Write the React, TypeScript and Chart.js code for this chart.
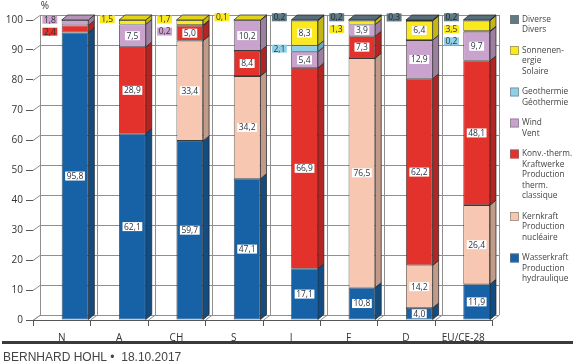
import React, { useEffect, useRef } from "react";
import { Chart, registerables } from "chart.js";
Chart.register(...registerables);

const categories = ["N", "A", "CH", "S", "I", "F", "D", "EU/CE-28"];
const wasserkraft = [95.8, 62.1, 59.7, 47.1, 17.1, 10.8, 4.0, 11.9];
const kernkraft = [0, 0, 33.4, 34.2, 0, 76.5, 14.2, 26.4];
const konvTherm = [2.4, 28.9, 5.0, 8.4, 66.9, 7.3, 62.2, 48.1];
const wind = [1.8, 7.5, 0.2, 10.2, 5.4, 3.9, 12.9, 9.7];
const geothermie = [0, 0, 0, 0, 2.1, 0, 0, 0.2];
const sonnenenergie = [0, 1.5, 1.7, 0.1, 8.3, 1.3, 6.4, 3.5];
const diverse = [0, 0, 0, 0, 0.2, 0.2, 0.3, 0.2];

const seriesValues = [wasserkraft, kernkraft, konvTherm, wind, geothermie, sonnenenergie, diverse];
const seriesNames = [
  ["Wasserkraft", "Production", "hydraulique"],
  ["Kernkraft", "Production", "nucléaire"],
  ["Konv.-therm.", "Kraftwerke", "Production", "therm.", "classique"],
  ["Wind", "Vent"],
  ["Geothermie", "Géothermie"],
  ["Sonnenen-", "ergie", "Solaire"],
  ["Diverse", "Divers"],
];
const seriesColors = ["#1761a6", "#f7c7b1", "#e3312c", "#c9a3cd", "#8fd0e8", "#fae91e", "#617985"];
const yUnit = "%";
const footerText = "BERNHARD HOHL \u2022  18.10.2017";

const FONT = '"Open Sans", "DejaVu Sans", sans-serif';
const WDX = 7, WDY = -5; // back wall depth
const BDX = 6, BDY = -5; // bar depth
const INSIDE_MIN = 3.7;

function shade(hex: string, f: number) {
  const n = parseInt(hex.slice(1), 16);
  const r = Math.round(((n >> 16) & 255) * f);
  const g = Math.round(((n >> 8) & 255) * f);
  const b = Math.round((n & 255) * f);
  return `rgb(${r},${g},${b})`;
}
const fmt = (v: number) => v.toFixed(1).replace(".", ",");

const threeD = {
  id: "threeD",
  beforeDatasetsDraw(chart: any) {
    const { ctx, chartArea, scales } = chart;
    const { left, right, bottom } = chartArea;
    const y = scales.y;
    const n = chart.data.labels.length;
    const catW = (right - left) / n;
    const y0 = y.getPixelForValue(0);
    const y1 = y.getPixelForValue(100);
    ctx.save();
    ctx.lineWidth = 1;
    ctx.strokeStyle = "#8f8f8f";
    ctx.beginPath();
    y.ticks.forEach((t: any) => {
      const py = Math.round(y.getPixelForValue(t.value)) + 0.5;
      ctx.moveTo(left, py);
      ctx.lineTo(left + WDX, py + WDY);
      ctx.lineTo(right + WDX, py + WDY);
    });
    for (let i = 0; i <= n; i++) {
      const px = Math.round(left + i * catW) + 0.5;
      ctx.moveTo(px, bottom);
      ctx.lineTo(px + WDX, y0 + WDY);
      ctx.lineTo(px + WDX, y1 + WDY);
    }
    ctx.stroke();
    ctx.strokeStyle = "#555";
    ctx.beginPath();
    for (let i = 0; i <= n; i++) {
      const px = Math.round(left + i * catW) + 0.5;
      ctx.moveTo(px, bottom);
      ctx.lineTo(px, bottom + 6);
    }
    ctx.stroke();
    ctx.restore();
  },
  afterDatasetsDraw(chart: any) {
    const { ctx } = chart;
    const n = chart.data.labels.length;
    const padMeta = chart.getDatasetMeta(0);
    ctx.save();
    ctx.lineWidth = 0.8;
    ctx.strokeStyle = "rgba(35,35,35,0.9)";
    for (let j = 0; j < n; j++) {
      const segs: any[] = [];
      for (let d = 0; d < seriesValues.length; d++) {
        const v = seriesValues[d][j];
        if (!v) continue;
        const el = chart.getDatasetMeta(d + 1).data[j];
        const p = el.getProps(["x", "y", "base", "width"], true);
        segs.push({ d, v, ...p });
      }
      segs.forEach((s) => {
        const r = s.x + s.width / 2;
        ctx.beginPath();
        ctx.moveTo(r, s.y);
        ctx.lineTo(r + BDX, s.y + BDY);
        ctx.lineTo(r + BDX, s.base + BDY);
        ctx.lineTo(r, s.base);
        ctx.closePath();
        ctx.fillStyle = shade(seriesColors[s.d], 0.78);
        ctx.fill();
        ctx.stroke();
      });
      const topSeg = segs[segs.length - 1];
      if (topSeg) {
        const l = topSeg.x - topSeg.width / 2;
        const r = topSeg.x + topSeg.width / 2;
        ctx.beginPath();
        ctx.moveTo(l, topSeg.y);
        ctx.lineTo(l + BDX, topSeg.y + BDY);
        ctx.lineTo(r + BDX, topSeg.y + BDY);
        ctx.lineTo(r, topSeg.y);
        ctx.closePath();
        ctx.fillStyle = shade(seriesColors[topSeg.d], 0.9);
        ctx.fill();
        ctx.stroke();
      }
      ctx.font = `8.5px ${FONT}`;
      ctx.textAlign = "center";
      ctx.textBaseline = "middle";
      segs.forEach((s) => {
        if (s.v < INSIDE_MIN) return;
        const t = fmt(s.v);
        const w = ctx.measureText(t).width + 3;
        const cy = (s.y + s.base) / 2;
        ctx.fillStyle = "#ffffff";
        ctx.fillRect(s.x - w / 2, cy - 4.5, w, 9);
        ctx.fillStyle = "#2a3240";
        ctx.fillText(t, s.x, cy + 0.5);
      });
      const outs = segs.filter((s) => s.v < INSIDE_MIN).reverse();
      const lx = padMeta.data[j].x + 1.5;
      let prev = -Infinity;
      outs.forEach((s, k) => {
        const c = (s.y + s.base) / 2;
        const cy = k === 0 ? c - 3 : Math.max(c, prev + 12);
        prev = cy;
        const t = fmt(s.v);
        const w = ctx.measureText(t).width + 3;
        ctx.fillStyle = seriesColors[s.d];
        ctx.fillRect(lx - w / 2, cy - 4, w, 8);
        ctx.fillStyle = s.d === 6 ? "#1e2a30" : "#333";
        ctx.fillText(t, lx, cy + 0.5);
      });
    }
    ctx.restore();
  },
  afterDraw(chart: any) {
    const { ctx, chartArea, width } = chart;
    ctx.save();
    ctx.font = `10px ${FONT}`;
    ctx.fillStyle = "#333";
    ctx.textAlign = "center";
    ctx.textBaseline = "middle";
    ctx.fillText(yUnit, chartArea.left + 12, chartArea.top - 14);
    const sx = chartArea.right + 18;
    let yy = chartArea.top - 5;
    ctx.font = `8.3px ${FONT}`;
    ctx.textAlign = "left";
    for (let d = seriesValues.length - 1; d >= 0; d--) {
      const lines = seriesNames[d];
      ctx.fillStyle = seriesColors[d];
      ctx.fillRect(sx, yy, 9, 9);
      ctx.strokeStyle = "#777";
      ctx.lineWidth = 0.6;
      ctx.strokeRect(sx + 0.5, yy + 0.5, 8, 8);
      ctx.fillStyle = "#444";
      lines.forEach((ln, k) => ctx.fillText(ln, sx + 12, yy + 4.5 + k * 10.5));
      yy += lines.length * 10.5 + 10;
    }
    ctx.fillStyle = "#3a3a3a";
    ctx.fillRect(2, 341, width - 4, 3);
    ctx.font = '12px "Liberation Sans", Arial, sans-serif';
    ctx.fillStyle = "#444";
    ctx.textBaseline = "alphabetic";
    ctx.fillText(footerText, 3, 361);
    ctx.restore();
  },
};

export default function App() {
  const ref = useRef<HTMLCanvasElement | null>(null);
  useEffect(() => {
    if (!ref.current) return;
    const datasets: any[] = [
      {
        label: "pad",
        data: categories.map(() => 0),
        stack: "pad",
        backgroundColor: "rgba(0,0,0,0)",
        borderWidth: 0,
        categoryPercentage: 0.93,
        barPercentage: 1,
      },
      ...seriesValues.map((vals, d) => ({
        label: seriesNames[d].join(" "),
        data: vals.map((v) => (v ? v : null)),
        stack: "main",
        backgroundColor: seriesColors[d],
        borderColor: "rgba(35,35,35,0.9)",
        borderWidth: 0.8,
        borderSkipped: false,
        categoryPercentage: 0.93,
        barPercentage: 1,
      })),
    ];
    const chart = new Chart(ref.current, {
      type: "bar",
      data: { labels: categories, datasets },
      plugins: [threeD],
      options: {
        responsive: false,
        animation: false,
        layout: { padding: { top: 20, right: 83, left: 0, bottom: 0 } },
        plugins: { legend: { display: false }, tooltip: { enabled: false } },
        scales: {
          x: {
            stacked: true,
            grid: { display: false, offset: true },
            border: { display: true, color: "#555", width: 1 },
            ticks: { font: { family: FONT, size: 10 }, color: "#333", padding: 4 },
            afterFit: (s: any) => { s.height = 43; },
          },
          y: {
            stacked: true,
            min: 0,
            max: 100,
            grid: { drawOnChartArea: false, tickLength: 7, color: "#555" },
            border: { display: false },
            ticks: { stepSize: 10, font: { family: FONT, size: 10 }, color: "#333", padding: 3 },
            afterFit: (s: any) => { s.width = 33; },
          },
        },
      },
    });
    return () => chart.destroy();
  }, []);
  return (
    <div style={{ position: "absolute", left: 0, top: 0, width: 575, height: 363, background: "#fff" }}>
      <canvas ref={ref} width={575} height={363} />
    </div>
  );
}
